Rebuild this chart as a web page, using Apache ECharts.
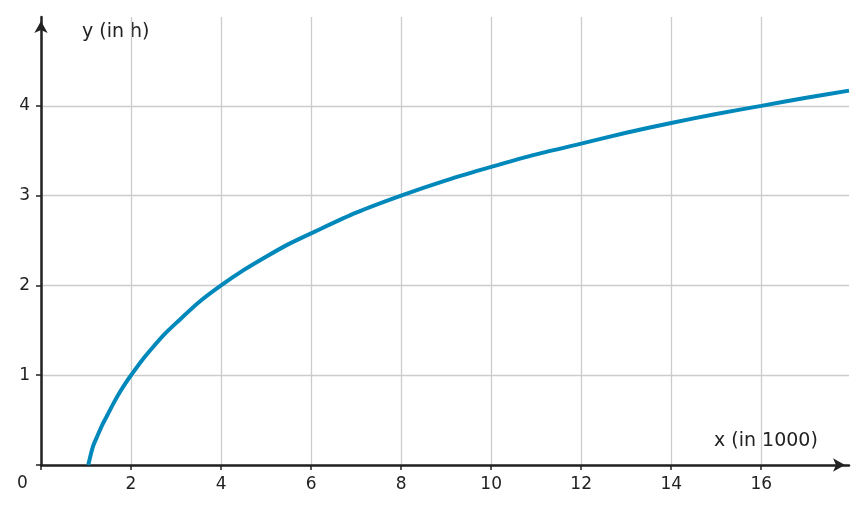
<!DOCTYPE html>
<html><head><meta charset="utf-8">
<script src="https://cdn.jsdelivr.net/npm/echarts@6/dist/echarts.min.js"></script>
<style>html,body{margin:0;padding:0;background:#fff}#c{width:867px;height:514px}</style>
</head><body><div id="c"></div>
<script>
const xValues = [1.05, 1.15, 1.25, 1.375, 1.5, 1.625, 1.75, 1.875, 2, 2.25, 2.5, 2.75, 3, 3.5, 4, 4.5, 5, 5.5, 6, 7, 8, 9, 10, 11, 12, 13, 14, 15, 16, 17, 17.95];
const yValues = [0, 0.2, 0.32, 0.46, 0.58, 0.70, 0.81, 0.91, 1, 1.17, 1.32, 1.46, 1.58, 1.81, 2, 2.17, 2.32, 2.46, 2.58, 2.81, 3, 3.17, 3.32, 3.46, 3.58, 3.70, 3.81, 3.91, 4, 4.09, 4.17];
const xTicks = [2, 4, 6, 8, 10, 12, 14, 16];
const yTicks = [1, 2, 3, 4];
const font = 'DejaVu Sans';
const chart = echarts.init(document.getElementById('c'));
chart.setOption({
  animation: false,
  grid: {left: 41, right: 18, top: 17, bottom: 49},
  xAxis: {
    type: 'value', min: 0, max: 17.95, interval: 2,
    axisLine: {show: true, onZero: false, lineStyle: {color: '#222', width: 2.5}, symbol: ['none', 'arrow'], symbolSize: [10, 12], symbolOffset: [0, -4]},
    axisTick: {show: true, length: 5, lineStyle: {color: '#222', width: 1.5}, interval: 0},
    splitLine: {show: true, showMaxLine: false, lineStyle: {color: '#cccccc', width: 1.3}},
    axisLabel: {fontFamily: font, fontSize: 17, color: '#222', margin: 11, showMaxLabel: false,
      formatter: v => xTicks.includes(v) ? String(v) : ''}
  },
  yAxis: {
    type: 'value', min: 0, max: 4.99, interval: 1,
    axisLine: {show: true, onZero: false, lineStyle: {color: '#222', width: 2.5}, symbol: ['none', 'arrow'], symbolSize: [10, 12], symbolOffset: [0, -4]},
    axisTick: {show: true, length: 5, lineStyle: {color: '#222', width: 1.5}},
    splitLine: {show: true, showMaxLine: false, lineStyle: {color: '#cccccc', width: 1.3}},
    axisLabel: {fontFamily: font, fontSize: 17, color: '#222', margin: 11, showMaxLabel: false,
      formatter: v => yTicks.includes(v) ? String(v) : ''}
  },
  graphic: [
    {type: 'text', left: 17, top: 475, style: {text: '0', font: '17px "DejaVu Sans"', fill: '#222'}},
    {type: 'text', left: 82, top: 23, style: {text: 'y (in h)', font: '19px "DejaVu Sans"', fill: '#222'}},
    {type: 'text', left: 714, top: 432, style: {text: 'x (in 1000)', font: '19px "DejaVu Sans"', fill: '#222'}}
  ],
  series: [{
    type: 'line', smooth: 0.25, showSymbol: false,
    data: xValues.map((x, i) => [x, yValues[i]]),
    lineStyle: {color: '#0088bb', width: 4}
  }]
});
</script></body></html>
